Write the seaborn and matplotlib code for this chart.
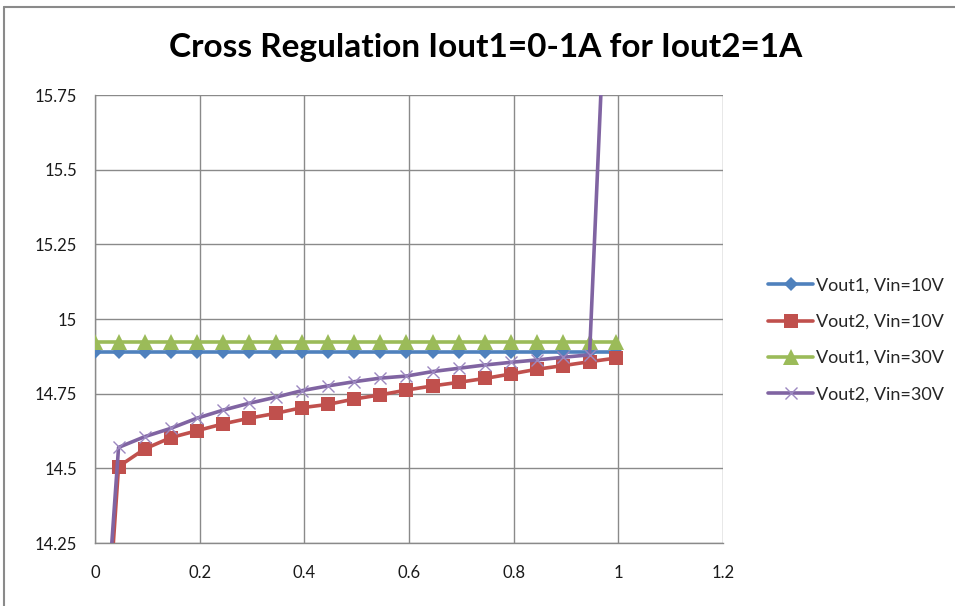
import pandas as pd
import matplotlib.pyplot as plt
import seaborn as sns
from matplotlib.lines import Line2D

# Iout1 (A), shared by all four series
IOUT1 = [0.0, 0.045, 0.095, 0.145, 0.195, 0.245, 0.295, 0.345, 0.395, 0.445,
         0.495, 0.545, 0.595, 0.645, 0.695, 0.745, 0.795, 0.845, 0.895, 0.945, 0.995]

VOUT1_VIN10 = [14.89, 14.89, 14.89, 14.89, 14.89, 14.89, 14.89, 14.89, 14.89, 14.89,
               14.89, 14.89, 14.89, 14.89, 14.89, 14.89, 14.89, 14.89, 14.89, 14.89, 14.89]
VOUT2_VIN10 = [13.35, 14.506, 14.565, 14.603, 14.626, 14.649, 14.668, 14.684, 14.703, 14.714,
               14.732, 14.746, 14.762, 14.776, 14.788, 14.801, 14.816, 14.832, 14.844, 14.857, 14.869]
VOUT1_VIN30 = [14.923, 14.923, 14.923, 14.923, 14.923, 14.923, 14.923, 14.923, 14.923, 14.923,
               14.923, 14.923, 14.923, 14.923, 14.923, 14.923, 14.923, 14.923, 14.923, 14.923, 14.923]
VOUT2_VIN30 = [13.45, 14.57, 14.606, 14.634, 14.668, 14.695, 14.718, 14.738, 14.760, 14.776,
               14.790, 14.802, 14.809, 14.824, 14.835, 14.846, 14.855, 14.863, 14.872, 14.88, 16.9]

SERIES = ['Vout1, Vin=10V', 'Vout2, Vin=10V', 'Vout1, Vin=30V', 'Vout2, Vin=30V']
X_TICKS = [0, 0.2, 0.4, 0.6, 0.8, 1.0, 1.2]
X_TICK_LABELS = ['0', '0.2', '0.4', '0.6', '0.8', '1', '1.2']
Y_TICKS = [14.25, 14.5, 14.75, 15.0, 15.25, 15.5, 15.75]
Y_TICK_LABELS = ['14.25', '14.5', '14.75', '15', '15.25', '15.5', '15.75']

# look of each series (Excel 2007 palette)
STYLE = {
    'Vout1, Vin=10V': dict(color='#4F81BD', marker='D', markersize=7.5,
                           markeredgewidth=0, markeredgecolor='#4F81BD'),
    'Vout2, Vin=10V': dict(color='#C0504D', marker='s', markersize=10.5,
                           markeredgewidth=0, markeredgecolor='#C0504D'),
    'Vout1, Vin=30V': dict(color='#9BBB59', marker='^', markersize=11,
                           markeredgewidth=0, markeredgecolor='#9BBB59'),
    'Vout2, Vin=30V': dict(color='#8064A2', marker='x', markersize=9,
                           markeredgewidth=1.0, markeredgecolor='#9c88c0'),
}

df = pd.DataFrame({
    'iout1': IOUT1 * 4,
    'vout': VOUT1_VIN10 + VOUT2_VIN10 + VOUT1_VIN30 + VOUT2_VIN30,
    'series': [s for s in SERIES for _ in IOUT1],
})

sns.set_theme(style='white')
plt.rcParams['font.family'] = ['Lato', 'DejaVu Sans']

fig = plt.figure(figsize=(9.55, 6.06), dpi=100)
ax = fig.add_axes([95 / 955, 1 - 543 / 606, (723 - 95) / 955, (543 - 95) / 606])

for name in SERIES:
    sns.lineplot(data=df[df['series'] == name], x='iout1', y='vout', ax=ax,
                 sort=False, estimator=None, linewidth=2.6, label=name,
                 zorder=3, **STYLE[name])

ax.set_xlim(0, 1.2)
ax.set_ylim(14.25, 15.75)
ax.set_xticks(X_TICKS)
ax.set_xticklabels(X_TICK_LABELS)
ax.set_yticks(Y_TICKS)
ax.set_yticklabels(Y_TICK_LABELS)
ax.set_xlabel('')
ax.set_ylabel('')
ax.grid(True, color='#8a8a8a', linewidth=1.0)
ax.set_axisbelow(True)
for side in ['top', 'right']:
    ax.spines[side].set_visible(False)
for side in ['left', 'bottom']:
    ax.spines[side].set_color('#8a8a8a')
    ax.spines[side].set_linewidth(1.0)
ax.tick_params(axis='both', direction='out', length=4, width=1, color='#8a8a8a',
               labelsize=12, labelcolor='#1a1a1a')
ax.tick_params(axis='x', pad=12)
ax.tick_params(axis='y', pad=9)

ax.legend(loc='center left', bbox_to_anchor=(752 / 955, 1 - 340 / 606),
          bbox_transform=fig.transFigure, frameon=False, fontsize=13,
          labelspacing=1.12, handlelength=2.5, handletextpad=0.15)

fig.text(0.509, 1 - 47 / 606, 'Cross Regulation Iout1=0-1A for Iout2=1A',
         ha='center', va='center', fontsize=24, fontweight='bold', color='#000000')

# chart area border (left and top edges visible)
fig.add_artist(Line2D([4 / 955, 4 / 955], [0, 1 - 7 / 606], color='#8a8a8a', linewidth=1.5))
fig.add_artist(Line2D([4 / 955, 1], [1 - 7 / 606, 1 - 7 / 606], color='#8a8a8a', linewidth=1.5))

fig.savefig('out.png', dpi=100)
plt.close(fig)
